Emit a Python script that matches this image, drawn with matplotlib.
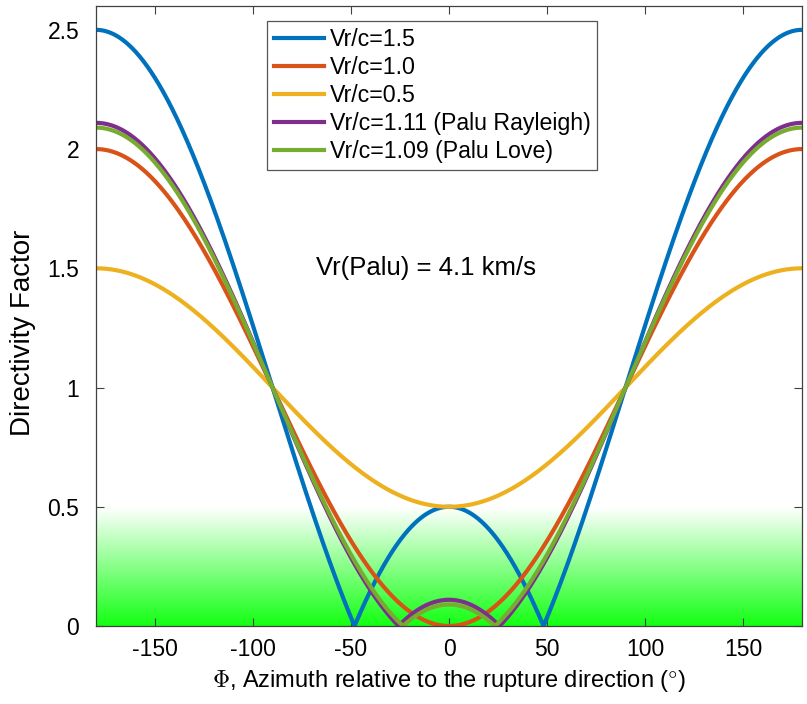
import numpy as np
import matplotlib
matplotlib.use("Agg")
import matplotlib.pyplot as plt

plt.rcParams['font.family'] = ['Liberation Sans', 'DejaVu Sans']
plt.rcParams['mathtext.fontset'] = 'cm'

# Rupture-to-phase velocity ratios and their legend labels
ratios = [1.5, 1.0, 0.5, 1.11, 1.09]
labels = ["Vr/c=1.5", "Vr/c=1.0", "Vr/c=0.5",
          "Vr/c=1.11 (Palu Rayleigh)", "Vr/c=1.09 (Palu Love)"]
colors = ["#0072BD", "#D95319", "#EDB120", "#7E2F8E", "#77AC30"]

xticks = [-150, -100, -50, 0, 50, 100, 150]
yticks = [0, 0.5, 1, 1.5, 2, 2.5]
ytick_labels = ["0", "0.5", "1", "1.5", "2", "2.5"]

shade_top = 0.5
annotation = "Vr(Palu) = 4.1 km/s"

fig = plt.figure(figsize=(8.07, 7.04), dpi=100)
ax = fig.add_axes([0.119, 0.1108, 0.8748, 0.8807])

# Green shading fading to white towards the top of the low-directivity band
n = 60
frac = np.linspace(0, 1, n)[:, None]
green = np.array([0.08, 1.0, 0.08])
white = np.array([1.0, 1.0, 1.0])
grad = green[None, :] * (1 - frac) + white[None, :] * frac
grad = np.repeat(grad[:, None, :], 2, axis=1)
ax.imshow(grad, extent=(-180, 180, 0, shade_top), origin='lower',
          aspect='auto', interpolation='nearest', zorder=0)

# Directivity factor |1 - (Vr/c) cos(phi)|
phi = np.linspace(-180, 180, 1441)
for r, lab, c in zip(ratios, labels, colors):
    d = np.abs(1 - r * np.cos(np.deg2rad(phi)))
    ax.plot(phi, d, color=c, lw=3.0, label=lab, zorder=2)

ax.text(-68, 1.5, annotation, fontsize=18.5, va='center', ha='left')

ax.set_xlim(-180, 180)
ax.set_ylim(0, 2.6)
ax.set_xticks(xticks)
ax.set_xticklabels([str(t) for t in xticks])
ax.set_yticks(yticks)
ax.set_yticklabels(ytick_labels)
ax.tick_params(direction='in', length=6, width=0.8, color='#404040',
               top=True, right=True, labelsize=16.5)
ax.tick_params(axis='x', pad=9)
ax.tick_params(axis='y', pad=12)
for s in ax.spines.values():
    s.set_color('#404040')
    s.set_linewidth(0.9)

ax.set_xlabel(r"$\Phi$, Azimuth relative to the rupture direction ($\degree$)",
              fontsize=17, labelpad=5)
ax.set_ylabel("Directivity Factor", fontsize=20)
ax.yaxis.set_label_coords(-0.085, 0.4726)

leg = ax.legend(loc='upper left', bbox_to_anchor=(0.242, 0.976),
                borderaxespad=0, fontsize=16.7, frameon=True, fancybox=False,
                framealpha=1, edgecolor='#555555', handlelength=2.15,
                handletextpad=0.25, labelspacing=0.22, borderpad=0.3)
leg.get_frame().set_linewidth(0.9)

fig.savefig("out.png", dpi=100)
